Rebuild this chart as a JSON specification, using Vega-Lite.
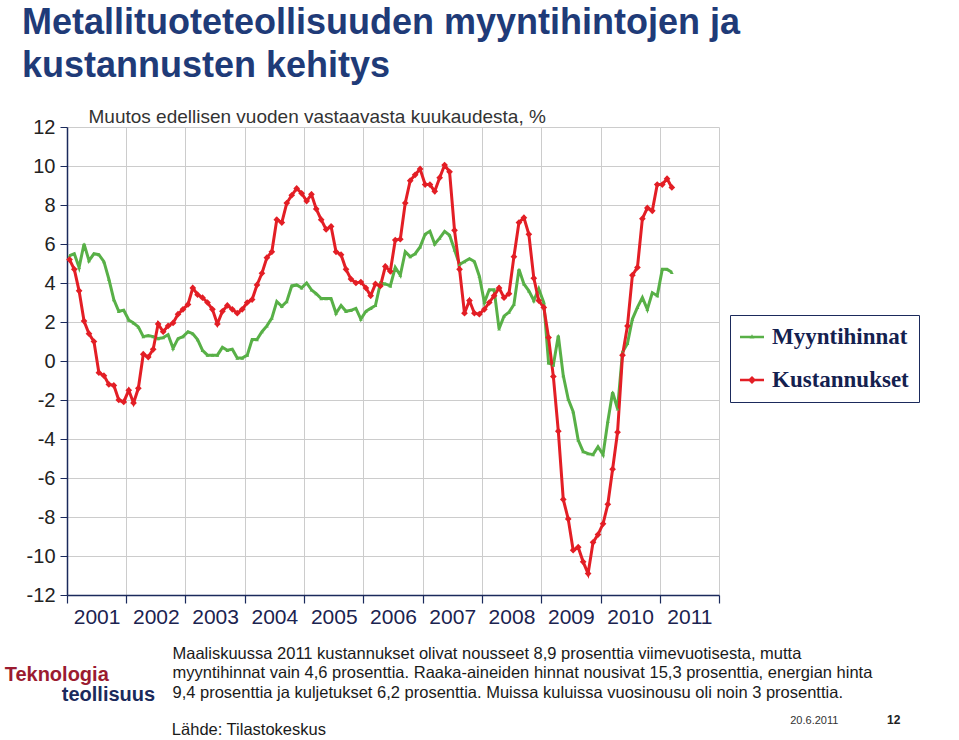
{
  "$schema": "https://vega.github.io/schema/vega-lite/v6.json",
  "width": 652,
  "height": 468,
  "autosize": "none",
  "padding": {"left": 67, "top": 127, "right": 240, "bottom": 145},
  "background": "white",
  "config": {"view": {"stroke": null}},
  "title": {
    "text": ["Metallituoteteollisuuden myyntihintojen ja", "kustannusten kehitys"],
    "anchor": "start",
    "frame": "group",
    "dx": -45,
    "offset": 22,
    "font": "Liberation Sans",
    "fontSize": 36,
    "fontWeight": "bold",
    "color": "#1f3b78",
    "lineHeight": 43
  },
  "data": {
    "values": [
      {"m":"2001-01","Myyntihinnat":5.4,"Kustannukset":5.2},
      {"m":"2001-02","Myyntihinnat":5.5,"Kustannukset":4.7},
      {"m":"2001-03","Myyntihinnat":4.8,"Kustannukset":3.6},
      {"m":"2001-04","Myyntihinnat":6.0,"Kustannukset":2.05},
      {"m":"2001-05","Myyntihinnat":5.15,"Kustannukset":1.4},
      {"m":"2001-06","Myyntihinnat":5.5,"Kustannukset":1.0},
      {"m":"2001-07","Myyntihinnat":5.45,"Kustannukset":-0.6},
      {"m":"2001-08","Myyntihinnat":5.1,"Kustannukset":-0.75},
      {"m":"2001-09","Myyntihinnat":4.2,"Kustannukset":-1.2},
      {"m":"2001-10","Myyntihinnat":3.15,"Kustannukset":-1.25},
      {"m":"2001-11","Myyntihinnat":2.55,"Kustannukset":-2.0},
      {"m":"2001-12","Myyntihinnat":2.6,"Kustannukset":-2.1},
      {"m":"2002-01","Myyntihinnat":2.1,"Kustannukset":-1.5},
      {"m":"2002-02","Myyntihinnat":1.95,"Kustannukset":-2.15},
      {"m":"2002-03","Myyntihinnat":1.75,"Kustannukset":-1.4},
      {"m":"2002-04","Myyntihinnat":1.25,"Kustannukset":0.35},
      {"m":"2002-05","Myyntihinnat":1.3,"Kustannukset":0.2},
      {"m":"2002-06","Myyntihinnat":1.25,"Kustannukset":0.6},
      {"m":"2002-07","Myyntihinnat":1.15,"Kustannukset":1.9},
      {"m":"2002-08","Myyntihinnat":1.2,"Kustannukset":1.5},
      {"m":"2002-09","Myyntihinnat":1.35,"Kustannukset":1.8},
      {"m":"2002-10","Myyntihinnat":0.65,"Kustannukset":1.95},
      {"m":"2002-11","Myyntihinnat":1.15,"Kustannukset":2.4},
      {"m":"2002-12","Myyntihinnat":1.25,"Kustannukset":2.65},
      {"m":"2003-01","Myyntihinnat":1.5,"Kustannukset":2.9},
      {"m":"2003-02","Myyntihinnat":1.4,"Kustannukset":3.75},
      {"m":"2003-03","Myyntihinnat":1.1,"Kustannukset":3.4},
      {"m":"2003-04","Myyntihinnat":0.55,"Kustannukset":3.25},
      {"m":"2003-05","Myyntihinnat":0.3,"Kustannukset":3.0},
      {"m":"2003-06","Myyntihinnat":0.3,"Kustannukset":2.65},
      {"m":"2003-07","Myyntihinnat":0.3,"Kustannukset":1.9},
      {"m":"2003-08","Myyntihinnat":0.7,"Kustannukset":2.55},
      {"m":"2003-09","Myyntihinnat":0.55,"Kustannukset":2.85},
      {"m":"2003-10","Myyntihinnat":0.6,"Kustannukset":2.65},
      {"m":"2003-11","Myyntihinnat":0.15,"Kustannukset":2.45},
      {"m":"2003-12","Myyntihinnat":0.15,"Kustannukset":2.65},
      {"m":"2004-01","Myyntihinnat":0.3,"Kustannukset":3.0},
      {"m":"2004-02","Myyntihinnat":1.1,"Kustannukset":3.15},
      {"m":"2004-03","Myyntihinnat":1.1,"Kustannukset":3.9},
      {"m":"2004-04","Myyntihinnat":1.5,"Kustannukset":4.5},
      {"m":"2004-05","Myyntihinnat":1.8,"Kustannukset":5.3},
      {"m":"2004-06","Myyntihinnat":2.2,"Kustannukset":5.6},
      {"m":"2004-07","Myyntihinnat":3.05,"Kustannukset":7.25},
      {"m":"2004-08","Myyntihinnat":2.8,"Kustannukset":7.1},
      {"m":"2004-09","Myyntihinnat":3.05,"Kustannukset":8.1},
      {"m":"2004-10","Myyntihinnat":3.85,"Kustannukset":8.5},
      {"m":"2004-11","Myyntihinnat":3.9,"Kustannukset":8.85},
      {"m":"2004-12","Myyntihinnat":3.75,"Kustannukset":8.6},
      {"m":"2005-01","Myyntihinnat":4.0,"Kustannukset":8.2},
      {"m":"2005-02","Myyntihinnat":3.65,"Kustannukset":8.55},
      {"m":"2005-03","Myyntihinnat":3.45,"Kustannukset":7.8},
      {"m":"2005-04","Myyntihinnat":3.2,"Kustannukset":7.25},
      {"m":"2005-05","Myyntihinnat":3.2,"Kustannukset":6.75},
      {"m":"2005-06","Myyntihinnat":3.2,"Kustannukset":6.9},
      {"m":"2005-07","Myyntihinnat":2.45,"Kustannukset":5.6},
      {"m":"2005-08","Myyntihinnat":2.85,"Kustannukset":5.45},
      {"m":"2005-09","Myyntihinnat":2.55,"Kustannukset":4.7},
      {"m":"2005-10","Myyntihinnat":2.6,"Kustannukset":4.2},
      {"m":"2005-11","Myyntihinnat":2.7,"Kustannukset":4.0},
      {"m":"2005-12","Myyntihinnat":2.15,"Kustannukset":4.05},
      {"m":"2006-01","Myyntihinnat":2.55,"Kustannukset":3.75},
      {"m":"2006-02","Myyntihinnat":2.7,"Kustannukset":3.35},
      {"m":"2006-03","Myyntihinnat":2.85,"Kustannukset":3.95},
      {"m":"2006-04","Myyntihinnat":4.0,"Kustannukset":3.85},
      {"m":"2006-05","Myyntihinnat":3.95,"Kustannukset":4.85},
      {"m":"2006-06","Myyntihinnat":3.85,"Kustannukset":4.6},
      {"m":"2006-07","Myyntihinnat":4.8,"Kustannukset":6.2},
      {"m":"2006-08","Myyntihinnat":4.4,"Kustannukset":6.25},
      {"m":"2006-09","Myyntihinnat":5.6,"Kustannukset":8.1},
      {"m":"2006-10","Myyntihinnat":5.35,"Kustannukset":9.25},
      {"m":"2006-11","Myyntihinnat":5.5,"Kustannukset":9.55},
      {"m":"2006-12","Myyntihinnat":5.85,"Kustannukset":9.85},
      {"m":"2007-01","Myyntihinnat":6.5,"Kustannukset":9.05},
      {"m":"2007-02","Myyntihinnat":6.65,"Kustannukset":9.05},
      {"m":"2007-03","Myyntihinnat":6.0,"Kustannukset":8.7},
      {"m":"2007-04","Myyntihinnat":6.3,"Kustannukset":9.4},
      {"m":"2007-05","Myyntihinnat":6.65,"Kustannukset":10.05},
      {"m":"2007-06","Myyntihinnat":6.45,"Kustannukset":9.7},
      {"m":"2007-07","Myyntihinnat":5.7,"Kustannukset":6.7},
      {"m":"2007-08","Myyntihinnat":4.95,"Kustannukset":4.7},
      {"m":"2007-09","Myyntihinnat":5.1,"Kustannukset":2.45},
      {"m":"2007-10","Myyntihinnat":5.25,"Kustannukset":3.1},
      {"m":"2007-11","Myyntihinnat":5.1,"Kustannukset":2.45},
      {"m":"2007-12","Myyntihinnat":4.35,"Kustannukset":2.4},
      {"m":"2008-01","Myyntihinnat":3.0,"Kustannukset":2.65},
      {"m":"2008-02","Myyntihinnat":3.65,"Kustannukset":3.0},
      {"m":"2008-03","Myyntihinnat":3.65,"Kustannukset":3.35},
      {"m":"2008-04","Myyntihinnat":1.65,"Kustannukset":3.75},
      {"m":"2008-05","Myyntihinnat":2.3,"Kustannukset":3.25},
      {"m":"2008-06","Myyntihinnat":2.5,"Kustannukset":3.45},
      {"m":"2008-07","Myyntihinnat":2.9,"Kustannukset":5.35},
      {"m":"2008-08","Myyntihinnat":4.7,"Kustannukset":7.1},
      {"m":"2008-09","Myyntihinnat":3.95,"Kustannukset":7.35},
      {"m":"2008-10","Myyntihinnat":3.6,"Kustannukset":6.5},
      {"m":"2008-11","Myyntihinnat":3.1,"Kustannukset":4.25},
      {"m":"2008-12","Myyntihinnat":3.7,"Kustannukset":3.1},
      {"m":"2009-01","Myyntihinnat":3.0,"Kustannukset":2.75},
      {"m":"2009-02","Myyntihinnat":-0.1,"Kustannukset":1.2},
      {"m":"2009-03","Myyntihinnat":-0.2,"Kustannukset":-0.8},
      {"m":"2009-04","Myyntihinnat":1.3,"Kustannukset":-3.6},
      {"m":"2009-05","Myyntihinnat":-0.75,"Kustannukset":-7.1},
      {"m":"2009-06","Myyntihinnat":-1.95,"Kustannukset":-8.1},
      {"m":"2009-07","Myyntihinnat":-2.6,"Kustannukset":-9.7},
      {"m":"2009-08","Myyntihinnat":-4.05,"Kustannukset":-9.55},
      {"m":"2009-09","Myyntihinnat":-4.65,"Kustannukset":-10.3},
      {"m":"2009-10","Myyntihinnat":-4.75,"Kustannukset":-10.9},
      {"m":"2009-11","Myyntihinnat":-4.8,"Kustannukset":-9.3},
      {"m":"2009-12","Myyntihinnat":-4.4,"Kustannukset":-8.9},
      {"m":"2010-01","Myyntihinnat":-4.8,"Kustannukset":-8.35},
      {"m":"2010-02","Myyntihinnat":-3.1,"Kustannukset":-7.35},
      {"m":"2010-03","Myyntihinnat":-1.6,"Kustannukset":-5.55},
      {"m":"2010-04","Myyntihinnat":-2.45,"Kustannukset":-3.65},
      {"m":"2010-05","Myyntihinnat":0.45,"Kustannukset":0.3},
      {"m":"2010-06","Myyntihinnat":0.9,"Kustannukset":1.8},
      {"m":"2010-07","Myyntihinnat":2.15,"Kustannukset":4.4},
      {"m":"2010-08","Myyntihinnat":2.75,"Kustannukset":4.8},
      {"m":"2010-09","Myyntihinnat":3.25,"Kustannukset":7.3},
      {"m":"2010-10","Myyntihinnat":2.65,"Kustannukset":7.85},
      {"m":"2010-11","Myyntihinnat":3.5,"Kustannukset":7.7},
      {"m":"2010-12","Myyntihinnat":3.35,"Kustannukset":9.05},
      {"m":"2011-01","Myyntihinnat":4.7,"Kustannukset":9.05},
      {"m":"2011-02","Myyntihinnat":4.7,"Kustannukset":9.35},
      {"m":"2011-03","Myyntihinnat":4.55,"Kustannukset":8.9}
    ],
    "format": {"parse": {"m": "date:'%Y-%m'"}}
  },
  "layer": [
    {
      "transform": [{"fold": ["Myyntihinnat", "Kustannukset"], "as": ["series", "value"]}],
      "encoding": {
        "x": {
          "field": "m", "type": "temporal", "timeUnit": "yearmonth", "bandPosition": 0.5,
          "scale": {"domain": [{"year": 2001, "month": 1, "date": 1}, {"year": 2012, "month": 1, "date": 1}], "nice": false},
          "axis": {
            "values": [
              {"year": 2001, "month": 1, "date": 1}, {"year": 2002, "month": 1, "date": 1},
              {"year": 2003, "month": 1, "date": 1}, {"year": 2004, "month": 1, "date": 1},
              {"year": 2005, "month": 1, "date": 1}, {"year": 2006, "month": 1, "date": 1},
              {"year": 2007, "month": 1, "date": 1}, {"year": 2008, "month": 1, "date": 1},
              {"year": 2009, "month": 1, "date": 1}, {"year": 2010, "month": 1, "date": 1},
              {"year": 2011, "month": 1, "date": 1}, {"year": 2012, "month": 1, "date": 1}
            ],
            "labelExpr": "year(datum.value) >= 2012 ? '' : timeFormat(datum.value, '%Y')",
            "labelOffset": 29.6,
            "labelFlush": false,
            "labelOverlap": false,
            "labelBound": false,
            "labelFont": "Liberation Sans",
            "labelFontSize": 21,
            "labelColor": "#1b2350",
            "labelPadding": 3,
            "labelBaseline": "top",
            "tickSize": 8,
            "tickColor": "#1b2a5c",
            "tickWidth": 1.2,
            "domainColor": "#1b2a5c",
            "domainWidth": 1.5,
            "grid": true,
            "gridColor": "#cccccc",
            "gridWidth": 1,
            "title": [
              "Maaliskuussa 2011 kustannukset olivat nousseet 8,9 prosenttia viimevuotisesta, mutta",
              "myyntihinnat vain 4,6 prosenttia. Raaka-aineiden hinnat nousivat 15,3 prosenttia, energian hinta",
              "9,4 prosenttia ja kuljetukset 6,2 prosenttia. Muissa kuluissa vuosinousu oli noin 3 prosenttia."
            ],
            "titleFont": "Liberation Sans",
            "titleFontSize": 16.5,
            "titleFontWeight": "normal",
            "titleColor": "#1a1a1a",
            "titleAlign": "left",
            "titleAnchor": "start",
            "titleBaseline": "top",
            "titleX": 105,
            "titleY": 50,
            "titleLineHeight": 19.5
          }
        },
        "y": {
          "field": "value", "type": "quantitative",
          "scale": {"domain": [-12, 12], "nice": false, "zero": false},
          "axis": {
            "values": [-12, -10, -8, -6, -4, -2, 0, 2, 4, 6, 8, 10, 12],
            "labelExpr": "datum.value + ''",
            "labelOverlap": false,
            "labelFont": "Liberation Sans",
            "labelFontSize": 20,
            "labelColor": "#222222",
            "labelPadding": 5,
            "tickSize": 7,
            "tickColor": "#1b2a5c",
            "domainColor": "#1b2a5c",
            "domainWidth": 1.5,
            "grid": true,
            "gridColor": "#cccccc",
            "gridWidth": 1,
            "title": "Muutos edellisen vuoden vastaavasta kuukaudesta, %",
            "titleAngle": 0,
            "titleAlign": "left",
            "titleBaseline": "alphabetic",
            "titleX": 21,
            "titleY": -5,
            "titleFont": "Liberation Sans",
            "titleFontSize": 19,
            "titleFontWeight": "normal",
            "titleColor": "#333333"
          }
        },
        "color": {
          "field": "series", "type": "nominal",
          "scale": {"domain": ["Myyntihinnat", "Kustannukset"], "range": ["#58b047", "#e31e25"]},
          "legend": {
            "title": null,
            "orient": "none",
            "legendX": 663,
            "legendY": 188,
            "padding": 10,
            "strokeColor": "#1b2a5c",
            "fillColor": "white",
            "symbolType": "M-1,-0.11H1V0.11H-1Z M0,-0.34L0.34,0L0,0.34L-0.34,0Z",
            "symbolSize": 576,
            "symbolStrokeWidth": 0,
            "labelFont": "Liberation Serif",
            "labelFontWeight": "bold",
            "labelFontSize": 23,
            "labelColor": "#14214f",
            "labelOffset": 8,
            "rowPadding": 19,
            "labelLimit": 300,
            "encode": {
              "symbols": {
                "update": {
                  "shape": {"signal": "datum.value === 'Myyntihinnat' ? 'M-1,-0.1H1V0.1H-1Z M-0.2,0.12L0,-0.22L0.2,0.12Z' : 'M-1,-0.11H1V0.11H-1Z M0,-0.34L0.34,0L0,0.34L-0.34,0Z'"}
                }
              }
            }
          }
        }
      },
      "layer": [
        {"mark": {"type": "line", "strokeWidth": 3}},
        {
          "transform": [{"filter": "datum.series == 'Myyntihinnat'"}],
          "mark": {"type": "point", "filled": true, "opacity": 1, "shape": "triangle-up", "size": 14}
        },
        {
          "transform": [{"filter": "datum.series == 'Kustannukset'"}],
          "mark": {"type": "point", "filled": true, "opacity": 1, "shape": "diamond", "size": 45}
        }
      ]
    },
    {
      "data": {"values": [{}]},
      "mark": {"type": "text", "align": "left", "baseline": "alphabetic", "font": "Liberation Sans", "fontSize": 16.5, "color": "#1a1a1a"},
      "encoding": {
        "x": {"datum": {"year": 2002, "month": 10, "date": 9}, "type": "temporal"},
        "y": {"datum": -19.2, "type": "quantitative", "axis": {"values": [-12, -10, -8, -6, -4, -2, 0, 2, 4, 6, 8, 10, 12]}},
        "text": {"value": "Lähde: Tilastokeskus"}
      }
    },
    {
      "data": {"values": [{}]},
      "mark": {"type": "text", "align": "left", "baseline": "alphabetic", "font": "Liberation Sans", "fontSize": 20, "fontWeight": "bold", "color": "#9b1b30"},
      "encoding": {
        "x": {"datum": {"year": 1999, "month": 12, "date": 14}, "type": "temporal"},
        "y": {"datum": -16.4, "type": "quantitative", "axis": {"values": [-12, -10, -8, -6, -4, -2, 0, 2, 4, 6, 8, 10, 12]}},
        "text": {"value": "Teknologia"}
      }
    },
    {
      "data": {"values": [{}]},
      "mark": {"type": "text", "align": "left", "baseline": "alphabetic", "font": "Liberation Sans", "fontSize": 20, "fontWeight": "bold", "color": "#1b2a5c"},
      "encoding": {
        "x": {"datum": {"year": 2000, "month": 11, "date": 30}, "type": "temporal"},
        "y": {"datum": -17.45, "type": "quantitative", "axis": {"values": [-12, -10, -8, -6, -4, -2, 0, 2, 4, 6, 8, 10, 12]}},
        "text": {"value": "teollisuus"}
      }
    },
    {
      "data": {"values": [{}]},
      "mark": {"type": "text", "align": "left", "baseline": "alphabetic", "font": "Liberation Sans", "fontSize": 11, "color": "#333333"},
      "encoding": {
        "x": {"datum": {"year": 2013, "month": 3, "date": 15}, "type": "temporal"},
        "y": {"datum": -18.6, "type": "quantitative", "axis": {"values": [-12, -10, -8, -6, -4, -2, 0, 2, 4, 6, 8, 10, 12]}},
        "text": {"value": "20.6.2011"}
      }
    },
    {
      "data": {"values": [{}]},
      "mark": {"type": "text", "align": "left", "baseline": "alphabetic", "font": "Liberation Sans", "fontSize": 12, "fontWeight": "bold", "color": "#222222"},
      "encoding": {
        "x": {"datum": {"year": 2014, "month": 11, "date": 1}, "type": "temporal"},
        "y": {"datum": -18.6, "type": "quantitative", "axis": {"values": [-12, -10, -8, -6, -4, -2, 0, 2, 4, 6, 8, 10, 12]}},
        "text": {"value": "12"}
      }
    }
  ]
}
